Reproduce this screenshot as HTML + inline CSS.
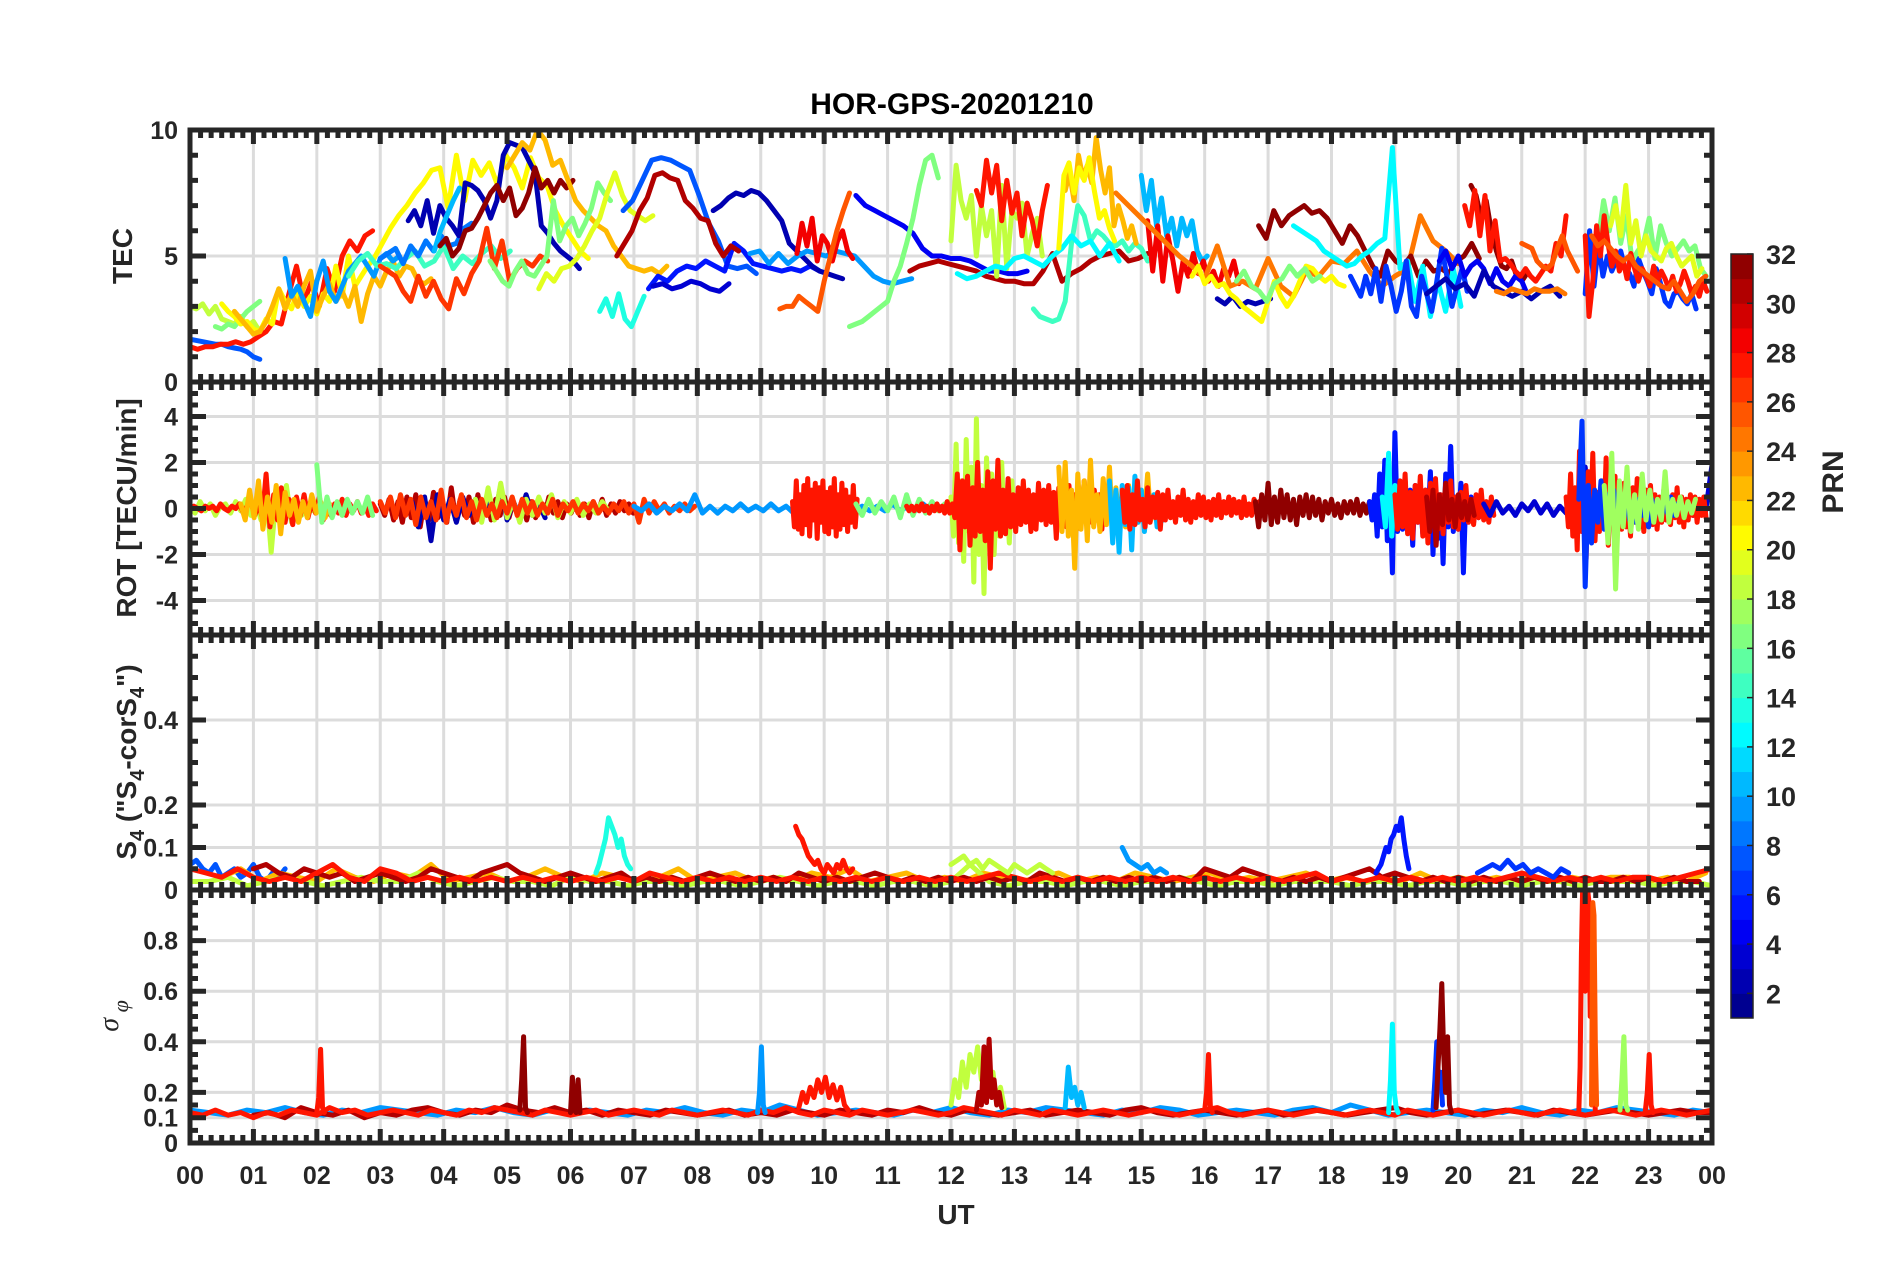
<!DOCTYPE html>
<html><head><meta charset="utf-8"><style>
html,body{margin:0;padding:0;background:#fff;}
svg{display:block;font-family:"Liberation Sans",Arial,sans-serif;}
</style></head><body>
<svg id="chart" width="1902" height="1272" viewBox="0 0 1902 1272" xmlns="http://www.w3.org/2000/svg">
<rect width="1902" height="1272" fill="#fff"/>
<text x="952" y="114" text-anchor="middle" font-size="30" font-weight="bold" fill="#000">HOR-GPS-20201210</text>
<g id="grids"></g>
<g id="series"></g>
<g id="frames"></g>
<g id="labels" fill="#262626" font-weight="bold"></g>
<text transform="translate(132,256) rotate(-90)" text-anchor="middle" font-size="28" font-weight="bold" fill="#262626">TEC</text>
<text transform="translate(136,508) rotate(-90)" text-anchor="middle" font-size="28" font-weight="bold" fill="#262626">ROT [TECU/min]</text>
<text transform="translate(136,762) rotate(-90)" text-anchor="middle" font-size="28" font-weight="bold" fill="#262626">S<tspan font-size="20" dy="8">4</tspan><tspan dy="-8"> ("S</tspan><tspan font-size="20" dy="8">4</tspan><tspan dy="-8">-corS</tspan><tspan font-size="20" dy="8">4</tspan><tspan dy="-8">")</tspan></text>
<text transform="translate(118,1016) rotate(-90)" text-anchor="middle" font-size="28" font-style="italic" fill="#262626" font-family="'Liberation Serif',serif">σ<tspan font-size="22" dy="10"> φ</tspan></text>
<text x="956" y="1224" text-anchor="middle" font-size="28" font-weight="bold" fill="#262626">UT</text>
<g id="colorbar"></g>
<text transform="translate(1843,482) rotate(-90)" text-anchor="middle" font-size="30" font-weight="bold" fill="#262626">PRN</text>
</svg>
<script>
// ---------- DATA ----------
const hourLabels = ["00","01","02","03","04","05","06","07","08","09","10","11","12","13","14","15","16","17","18","19","20","21","22","23","00"];
const tecTicks = [0,5,10];
const rotTicks = [-4,-2,0,2,4];
const s4Ticks = [0,0.1,0.2,0.4];
const sigTicks = [0,0.1,0.2,0.4,0.6,0.8];
const prnTicks = [2,4,6,8,10,12,14,16,18,20,22,24,26,28,30,32];

// TEC tracks
const tecPrn   = [7,27,18,16,20,20,22,9,14,8,26,2,10,31,22,16,19,13,7,5,3,30,2,9,28,25,4,16,30,18,27,14,12,22,20,10,28,24,2,31,31,20,16,12,6,4,2,27,25,24,6,16,19,27,25];
const tecStart = [0,0,0,0.4,0.5,2.9,0.7,1.5,2.5,3.0,3.0,3.44,3.85,3.94,5.0,4.73,5.5,6.46,6.83,7.23,7.3,6.73,8.25,8.83,9.57,9.3,10.5,10.4,11.35,12.0,12.4,13.3,12.1,13.8,13.7,15.0,15.1,14.6,16.2,16.85,20.2,15.8,16.5,17.4,18.3,19.7,19.5,20.1,21.0,20.6,22.0,22.2,22.4,22.0,22.1];
const tecStep  = [0.1,0.12,0.1,0.1,0.1,0.13,0.1,0.1,0.15,0.12,0.12,0.1,0.1,0.1,0.12,0.1,0.12,0.1,0.15,0.15,0.15,0.12,0.12,0.15,0.08,0.1,0.15,0.1,0.15,0.08,0.08,0.1,0.15,0.07,0.08,0.08,0.08,0.2,0.12,0.12,0.08,0.1,0.12,0.12,0.08,0.1,0.15,0.08,0.08,0.12,0.07,0.09,0.08,0.06,0.1];
const tecVals = [
[1.7,1.65,1.6,1.55,1.5,1.5,1.4,1.35,1.3,1.2,1.0,0.9],
[1.4,1.3,1.4,1.4,1.5,1.5,1.6,1.5,1.6,1.8,2.0,2.4,2.3,3.5,4.6,3.2,4.0,3.0,4.5,3.6,5.0,5.6,5.2,5.8,6.0],
[3.0,2.9,3.1,2.7,3.0,2.5,2.4,2.3,2.6,2.2,2.4,2.0],
[2.2,2.1,2.3,2.2,2.5,2.8,3.0,3.2],
[3.1,2.8,2.6,2.3,2.4,2.1,2.0,2.5,2.3,3.7,3.2,2.9,3.6,3.0,3.4,2.7,3.5,3.2,4.6,3.4,5.0,3.8,4.2,4.6,4.9],
[4.9,5.5,6.1,6.6,7.0,7.5,7.9,8.4,8.5,6.9,9.0,7.2,8.8,8.2,8.7,7.8,9.0,8.5,7.7,8.9,8.1,7.8,6.8,6.2,5.7,5.2,4.9],
[2.8,2.5,2.2,1.9,2.0,2.4,3.0,3.7,2.9,3.5,3.0,3.8,4.4,2.8,3.4,3.9,3.2,3.6,3.0,3.8,2.4,3.5,4.2,3.8,4.4,4.8,4.2,4.6,4.5,4.0,3.9,4.1],
[4.9,3.4,3.8,3.2,2.6,4.0,4.8,3.6,3.2,3.8,4.4,4.7,5.0,4.6,4.2,4.9,5.1,4.8,5.0],
[4.2,4.8,5.1,4.6,4.7,4.5,4.9,5.2,4.6,4.8,5.4,4.5,5.0,4.7,5.1,5.4,4.9,5.2],
[4.9,5.1,5.3,4.7,5.4,5.0,5.6,5.2,5.8,5.4,5.5,6.1,6.3],
[4.6,4.4,4.2,3.6,3.2,4.2,3.4,4.0,3.3,2.9,4.1,3.5,4.3,4.8,6.1,4.5,5.6,4.0,4.5,4.8,4.6,5.0,4.8],
[6.4,6.8,6.2,7.2,5.9,7.0,6.5,6.2,5.8,7.9,7.8,7.6,7.2,6.5,7.2,9.0,9.5,9.4,9.3,8.8,8.3,6.2,5.9,5.5,5.2,5.0,4.8,4.5],
[5.2,6.0,6.6,7.2,7.7],
[5.4,5.7,5.0,5.3,6.0,6.1,6.5,7.0,7.5,7.8,7.2,7.7,6.6,6.9,7.5,8.5,7.7,8.0,7.5,8.0,7.7,8.0],
[8.5,9.0,9.5,9.2,10.0,9.6,8.6,8.8,8.0,7.2,6.8,6.5,6.2,6.0,5.4,5.0,4.6,4.5,4.4,4.5,4.3,4.6],
[4.8,4.4,4.0,3.8,4.4,4.8,4.3,4.2,4.6,5.0,7.2,5.6,6.2,6.5,5.8,6.3,6.9,7.9,7.5,7.2],
[3.7,4.3,4.0,4.5,4.6,4.9,5.4,6.0,6.5,7.5,8.3,7.4,6.8,6.6,6.4,6.6],
[2.8,3.3,2.6,3.5,2.5,2.2,2.8,3.4],
[6.8,7.2,8.0,8.8,8.9,8.8,8.6,8.4,7.4,6.3,5.6,4.6,4.5,4.6,4.3],
[3.7,4.2,4.0,4.4,4.6,4.5,4.8,4.6,4.4,5.5,5.2,4.7,4.6,4.5,4.4,4.5,4.4,4.6,4.4],
[3.8,3.9,3.7,3.8,4.0,3.9,3.7,3.6,3.9],
[5.0,5.5,6.0,6.8,7.3,8.2,8.3,8.1,8.0,7.2,6.9,6.5,6.4,5.5,5.0,5.4,5.2],
[6.8,7.0,7.3,7.5,7.4,7.6,7.5,7.2,6.8,6.4,5.5,5.2,4.9,4.6,4.4,4.3,4.2,4.1],
[5.1,5.2,4.7,5.1,4.7,5.0,5.2,5.1,5.0,5.2,5.1,5.0,4.6,4.2,4.0,3.9,4.0,4.1],
[5.1,6.3,5.4,6.5,4.8,5.8,5.5,4.8,5.6,6.0,5.2,4.9],
[2.9,3.0,3.0,3.4,3.2,3.0,2.8,4.0,5.0,6.0,6.8,7.5],
[7.4,7.0,6.8,6.6,6.4,6.2,5.9,5.3,5.0,5.0,4.9,4.9,4.8,4.6,4.4,4.4,4.3,4.3,4.4],
[2.2,2.3,2.4,2.6,2.8,3.0,3.2,4.0,4.6,5.5,6.5,7.8,8.8,9.0,8.1],
[4.4,4.6,4.7,4.8,4.7,4.6,4.5,4.4,4.2,4.1,4.0,4.0,3.9,3.9,4.4,5.1,4.0,4.3,4.5,4.8,5.0,5.1,5.2,4.8,4.9,5.1],
[5.6,8.6,7.2,6.5,7.4,5.0,7.0,5.8,6.8,4.2,7.8,4.5,6.8,6.5,7.1,5.0,5.9,6.5,5.0],
[7.6,7.0,8.8,7.5,8.6,6.4,8.0,6.7,7.5,5.8,7.1,6.4,5.4,6.8,7.8],
[2.9,2.6,2.5,2.4,2.5,3.2,5.5,7.0,6.6,5.6,6.0,5.8,5.5,5.4,5.6,5.2,5.5,5.3,4.8],
[4.3,4.1,4.2,4.4,4.6,4.5,4.9,5.0,4.8,4.6,5.0,5.3,5.8,5.4,5.6,5.0,5.5,4.8],
[7.6,8.3,7.2,9.0,8.1,8.6,7.9,9.7,8.4,7.5,8.5,6.2,7.0,6.4,5.7,6.2,5.5],
[5.3,8.2,8.7,7.5,8.5,8.0,8.9,7.6,6.5,6.8,6.1,5.6],
[8.2,6.8,8.0,6.2,7.3,5.8,6.5,5.4,6.5,5.8,6.4,5.2,4.8,5.0],
[6.4,4.4,6.2,4.0,5.8,4.8,3.6,4.8,4.2,5.1,4.3,4.8,4.0,4.4,3.8,4.5,4.2,4.8,3.9],
[7.5,7.0,6.5,6.0,5.5,5.0,4.6,4.1,5.4,3.8,4.0,3.7,4.9,3.8,3.4,4.4,4.2,4.8,4.7,5.2,4.4,3.8,4.2,4.5,6.6,5.6,5.2,4.7],
[3.3,3.1,3.4,3.0,3.2,3.1,3.2,3.3],
[6.2,5.7,6.8,6.2,6.6,6.8,7.0,6.7,6.8,6.5,6.0,5.5,6.2,5.8,5.2,4.6,4.2,5.2,4.8,4.6,5.0,4.2,4.8,4.4,4.5,4.3,4.8,5.0,5.5,4.9],
[7.8,7.4,6.5,7.2,6.0,5.2,4.6,4.5,4.8,4.2,4.0,4.3],
[4.2,4.6,3.9,4.2,3.8,3.9,3.5,3.3,3.0,2.8,2.6,2.4,3.2,4.0,3.4,3.0,3.4,4.0,4.6,4.5,4.2,4.0,4.2,3.9,3.8],
[4.0,4.4,3.8,3.6,3.2,3.9,4.1,4.6,4.2,4.5,4.0,4.2],
[6.2,6.0,5.8,5.6,5.2,5.0,4.8,4.6,4.7,5.0,5.2,5.5,5.7,9.3,4.5,4.8,3.2,4.6,2.6,4.0,2.8,4.5,3.0],
[4.2,3.8,3.4,4.2,3.5,4.5,3.2,4.6,3.8,2.8,3.6,4.8,3.0,2.6,4.2,3.5,2.8,4.0,5.3,4.2,3.0,3.8,4.5,3.6],
[4.8,5.2,4.5,5.0,4.2,4.6,4.8,4.5,3.9,4.5,4.0,3.8,4.2,4.0,3.4],
[3.5,3.8,4.1,3.7,3.9,3.4,4.4,3.8,3.6,3.4,3.6,3.3,3.6,3.8,3.4],
[7.0,6.2,7.6,5.8,7.4,5.2,6.4,4.8,4.9,4.7,4.4,4.2,4.5,4.2,4.0,4.3,4.6,4.4,5.5,5.0,6.6],
[5.5,5.4,5.3,4.8,4.6,4.5,4.7,5.3,5.8,5.2,4.8,4.4],
[3.6,3.5,3.7,3.6,3.5,3.7,3.6,3.6,3.7,3.5],
[3.5,6.0,3.8,5.5,4.2,5.0,4.4,4.8,5.2,4.5,4.3,3.8,4.9,4.4,4.0,3.5,4.5,3.9,3.2,3.0,3.5,3.6,3.3,3.1,3.5,2.9],
[5.5,7.2,6.0,7.3,5.5,6.6,4.8,5.2,5.5,6.5,4.9,6.2,5.5,5.0,5.3,5.6,5.2,5.4,4.5,4.2],
[6.2,7.0,5.8,7.8,5.5,6.4,5.0,5.8,5.2,5.0,4.8,5.3,5.5,5.0,4.6,4.8,5.0,4.2,4.5],
[5.8,2.6,4.0,6.2,5.0,6.6,5.5,4.6,5.2,4.4,4.8,4.1,5.1,4.5,4.0,4.5,4.2,3.8,4.6,4.0,4.4,4.1,3.7,4.2,3.6,3.9,4.4,4.0,3.5,3.8,3.4,4.0,3.6],
[5.8,5.4,5.6,5.3,5.0,4.8,5.0,4.6,4.4,4.2,4.0,3.8,3.7,4.0,3.6,3.2,3.5,4.0,4.2]
];

// ROT series
const rotPrn   = [18,27,22,16,30,2,18,26,9,27,16,18,27,22,10,27,31,5,12,27,30,3,27,6,17];
const rotStart = [0,0,0.8,2.0,3.0,3.5,4.5,3.0,7.0,9.5,10.5,12.0,11.3,13.7,14.5,14.7,16.8,18.6,18.8,19.0,19.5,20.4,21.7,21.9,22.3];
const rotStep  = [0.08,0.06,0.07,0.08,0.07,0.1,0.1,0.08,0.12,0.03,0.1,0.04,0.04,0.05,0.05,0.04,0.05,0.04,0.05,0.04,0.05,0.1,0.035,0.05,0.06];
const rotVals = [
[0.1,-0.2,0.3,-0.1,0.2,-0.3,0.1,0.2,-0.2,0.3,-0.1,0.4,-0.3,0.2,-0.5,0.8,-1.9,0.6,-0.4,1.0,-0.6,0.4,-0.3,0.2,-0.1,0.3,-0.2,0.1],
[0,0.1,0,-0.1,0.1,0,0.1,-0.1,0.2,0,-0.1,0.1,0,0.2,-0.2,0.1,0.3,-0.3,0.2,-0.4,1.5,-0.8,0.6,-0.5,0.9,-0.6,0.4,-0.7,0.5,-0.3,0.6,-0.4,0.3,-0.2,0.5,-0.5,0.3,-0.3,0.2,-0.2,0.4,-0.3,0.2,-0.1,0.3,-0.2,0.1,-0.3,0.2,-0.1],
[0.2,-0.5,0.8,-0.4,1.2,-0.9,0.5,-0.6,1.0,-1.1,0.7,-0.3,0.4,-0.6,0.3,-0.4,0.6,-0.2,0.3,-0.4,0.2],
[1.9,-0.6,0.5,-0.4,0.3,-0.3,0.4,-0.2,0.3,-0.2,0.5,-0.3],
[0.2,-0.3,0.4,-0.5,0.3,-0.6,0.5,-0.4,0.6,-0.8,0.4,-0.5,0.7,-0.4,0.3,-0.6,0.9,-0.5,0.4,-0.3,0.5,-0.6,0.6,-0.4,0.3,-0.5,0.4,-0.3,0.5,-0.4,0.3,-0.3,0.4,-0.5,0.3,-0.4,0.2,-0.3,0.5,-0.2,0.3,-0.4,0.2,-0.2,0.3,-0.3,0.2,-0.4,0.3,-0.2,0.4,-0.3,0.2,-0.2,0.3,-0.1,0.2,-0.2],
[0.3,-0.8,0.5,-1.4,0.6,-0.5,0.4,-0.6,0.5,-0.3,0.4,-0.5,0.6,-0.4,1.0,-0.5,0.3,-0.4,0.6,-0.3,0.2,-0.4],
[0.4,-0.6,0.9,-0.5,1.1,-0.4,0.3,-0.6,0.4,-0.3,0.5,-0.2,0.6,-0.4,0.3,-0.2,0.4,-0.3,0.2,-0.2,0.3,-0.1],
[0.3,-0.2,0.5,-0.4,0.6,-0.3,0.4,-0.7,0.5,-0.4,0.3,-0.5,0.8,-0.6,0.4,-0.3,0.6,-0.4,0.3,-0.5,0.4,-0.3,0.2,-0.4,0.3,-0.2,0.5,-0.3,0.4,-0.2,0.3,-0.3,0.2,-0.2,0.4,-0.3,0.2,-0.1,0.3,-0.2,0.2,-0.1,0.3,-0.2,0.1,-0.2,0.2,-0.1,0.3,-0.2,0.2,-0.6,0.4,-0.2,0.3,-0.1,0.2,-0.2,0.1,-0.1,0.2,-0.1,0.1],
[0.1,-0.1,0.2,-0.2,0.1,-0.1,0.2,-0.1,0.6,-0.2,0.1,-0.2,0.1,-0.1,0.2,-0.1,0.1,-0.1,0.2,-0.1,0.1,-0.2,0.1,-0.1,0.2,-0.1,0.1,-0.1,0.2,-0.1,0.1,-0.1,0.1,-0.1,0.2,-0.1,0.1,-0.1,0.2,-0.1,0.1,-0.1],
[0.3,-0.8,1.2,-0.9,0.6,-1.1,1.0,-0.7,1.3,-1.2,0.8,-0.5,1.1,-1.3,0.9,-0.6,1.2,-1.0,0.7,-1.1,0.9,-0.8,1.3,-1.2,0.6,-0.9,1.1,-0.7,0.8,-1.0,0.5,-0.6,1.0,-0.8,0.4],
[0.2,-0.3,0.4,-0.2,0.3,-0.1,0.5,-0.4,0.6,-0.3,0.4,-0.2,0.3,-0.1,0.2],
[0.5,-1.2,2.8,-1.5,1.2,-2.3,3.0,-1.0,1.8,-3.2,3.9,-2.0,1.0,-3.7,2.2,-0.8,1.5,-2.0,0.8,-1.2,2.0,-1.0,0.6,-1.5,1.2,-0.8,0.5,-0.6],
[0.1,-0.1,0.1,-0.1,0.1,-0.1,0.2,-0.1,0.1,-0.2,0.1,-0.1,0.2,-0.1,0.1,-0.2,0.3,-0.2,0.2,-0.4,1.5,-1.8,1.2,-0.8,1.4,-1.6,0.9,-1.2,2.0,-1.0,0.8,-1.4,1.6,-2.6,1.2,-0.9,2.1,-1.2,0.8,-1.1,1.3,-0.8,0.6,-1.0,0.9,-0.7,1.2,-0.6,0.8,-1.0,0.6,-0.9,1.1,-0.5,0.8,-0.7,1.0,-0.6,0.7,-1.3,0.9,-0.6,0.5,-0.8,1.0,-0.5,0.6,-0.9,0.8,-0.4,1.2,-0.7,0.5,-0.6,0.8,-0.5,0.6,-0.9,0.7,-0.4,0.9,-0.6,0.5,-0.7,0.4],
[1.8,-1.0,2.0,-1.2,0.8,-2.6,1.5,-0.9,1.2,-1.4,2.1,-0.8,0.6,-1.0,1.3,-0.7,1.8,-1.1,0.9,-0.6,0.5,-0.8,1.0,-0.5,0.7,-0.6,0.8,-0.4,1.5,-0.5,0.6,-0.4],
[1.2,-1.5,0.8,-1.9,1.0,-0.7,0.9,-1.8,1.4,-0.6,0.8,-1.0,0.5,-0.4,0.6,-0.8,0.3,-0.5,0.4,-0.3],
[0.8,-0.6,1.0,-0.9,0.6,-0.7,1.2,-0.5,0.4,-0.8,0.9,-0.6,0.5,-0.4,0.7,-0.9,0.6,-0.5,0.8,-0.4,0.3,-0.6,0.5,-0.3,0.8,-0.5,0.4,-0.6,0.3,-0.4,0.6,-0.3,0.5,-0.4,0.3,-0.5,0.4,-0.3,0.6,-0.4,0.3,-0.2,0.5,-0.3,0.4,-0.2,0.3,-0.4,0.5,-0.3,0.2,-0.3,0.4,-0.2,0.3,-0.2,0.2],
[0.3,-0.8,0.6,-0.5,1.1,-0.7,0.5,-0.6,0.8,-0.4,0.6,-0.5,0.4,-0.7,0.5,-0.3,0.6,-0.4,0.5,-0.3,0.4,-0.5,0.3,-0.2,0.4,-0.3,0.2,-0.4,0.3,-0.2,0.3,-0.2,0.4,-0.3,0.2,-0.2,0.3,-0.1,0.2,-0.2],
[0.3,-0.5,0.6,-1.2,1.5,-0.8,2.1,-1.4,0.8,-2.8,3.3,-1.0,0.6,-0.9,1.2,-0.5,0.8,-1.6,1.0,-0.6,0.4,-1.1,0.8,-0.5,1.6,-2.0,0.9,-1.3,0.6,-2.4,1.5,-0.8,2.7,-1.0,0.5,-0.9,1.1,-2.8,0.7,-0.4,0.5,-0.6,0.3,-0.4],
[0.5,-0.8,2.4,-1.2,1.0,-0.6,0.5,-0.4,0.3],
[0.6,-0.9,1.2,-0.8,1.5,-1.1,0.7,-1.3,1.0,-0.6,1.4,-1.2,0.8,-1.5,1.1,-0.7,1.3,-0.9,0.6,-1.1,0.9,-0.6,1.2,-0.8,0.5,-0.9,0.7,-0.5,1.0,-0.6,0.4,-0.7,0.6,-0.4,0.8,-0.5,0.3,-0.6,0.5,-0.3],
[0.5,-1.0,0.8,-1.6,0.6,-0.7,1.1,-0.5,0.4,-0.8,0.6,-0.4,0.3,-0.5,0.4,-0.3],
[0.2,-0.3,0.3,-0.2,0.1,-0.3,0.2,-0.1,0.3,-0.2,0.2,-0.3,0.1,-0.2,0.4,-0.5,1.8,-0.6,0.5,-0.4,0.3,-0.3,0.2,-0.2,0.5,-0.4,0.2,-0.3,0.1,-0.2,0.3,-0.2,0.2,-0.3,0.2,-0.1,1.9],
[0.5,-0.8,1.5,-1.2,0.9,-1.8,2.5,-1.0,0.8,-2.2,1.6,-0.6,2.4,-1.4,0.7,-1.0,1.2,-0.8,2.2,-1.6,0.9,-0.7,1.4,-1.1,0.6,-0.9,1.1,-0.8,0.5,-1.2,0.9,-0.6,1.3,-0.8,0.7,-1.0,0.8,-0.5,1.0,-0.7,0.6,-0.9,0.5,-0.6,0.8,-0.5,0.4,-0.7,0.6,-0.4,0.9,-0.6,0.5,-0.8,0.4,-0.5,0.6,-0.3,0.5,-0.6,0.4,-0.3,0.5,-0.4],
[0.4,3.8,-3.4,1.0,-1.5,0.8,-0.6,1.2,-0.9,0.6,-0.5,0.8,-0.7,0.5,-0.4,0.6,-0.5,0.3,-0.6,0.4,-0.3,0.5,-0.8,0.4,-0.3,0.2,-0.4,0.3,-0.2,0.5,-0.3,0.2],
[1.0,-1.5,2.4,-3.5,1.2,-0.8,1.8,-1.0,0.6,-0.9,1.5,-0.5,0.8,-0.6,0.4,-0.5,1.6,-0.6,0.4,-0.3,0.5,-0.4,0.3,-0.2,0.4]
];

// S4 series
const s4Prn   = [7,22,18,30,27,13,27,5,18,9,6];
const s4Start = [0,0.5,0,1,0,6.4,9.55,18.7,12,14.7,20.3];
const s4Step  = [0.1,0.3,0.3,0.2,0.25,0.05,0.05,0.04,0.1,0.1,0.12];
const s4Vals = [
[0.06,0.07,0.05,0.04,0.06,0.03,0.04,0.05,0.03,0.04,0.06,0.03,0.02,0.04,0.03,0.05],
[0.03,0.05,0.02,0.04,0.03,0.02,0.05,0.03,0.02,0.04,0.03,0.06,0.02,0.03,0.04,0.02,0.03,0.05,0.03,0.02,0.04,0.03,0.02,0.03,0.05,0.02,0.03,0.04,0.02,0.03,0.02,0.04,0.03,0.05,0.02,0.03,0.04,0.02,0.03,0.02,0.04,0.03,0.02,0.03,0.04,0.02,0.03,0.02,0.04,0.03,0.02,0.03,0.04,0.02,0.03,0.02,0.03,0.04,0.02,0.03,0.02,0.03,0.02,0.04,0.02,0.03,0.02,0.03,0.02,0.03,0.02,0.03,0.02,0.03,0.03,0.02,0.03,0.02,0.04],
[0.02,0.02,0.03,0.01,0.02,0.03,0.02,0.01,0.02,0.03,0.02,0.02,0.04,0.02,0.01,0.02,0.03,0.02,0.02,0.01,0.03,0.02,0.02,0.01,0.02,0.02,0.01,0.02,0.02,0.01,0.02,0.03,0.02,0.01,0.02,0.02,0.01,0.02,0.02,0.01,0.02,0.06,0.02,0.01,0.02,0.02,0.01,0.02,0.02,0.01,0.02,0.02,0.03,0.02,0.01,0.02,0.02,0.01,0.02,0.02,0.02,0.01,0.02,0.02,0.01,0.02,0.02,0.01,0.02,0.02,0.01,0.02,0.02,0.01,0.02,0.02,0.02,0.01,0.02,0.02,0.01],
[0.05,0.06,0.04,0.03,0.05,0.04,0.03,0.04,0.02,0.03,0.04,0.03,0.02,0.03,0.05,0.04,0.03,0.02,0.04,0.05,0.06,0.04,0.03,0.02,0.03,0.04,0.03,0.02,0.03,0.04,0.02,0.03,0.02,0.03,0.02,0.03,0.04,0.03,0.02,0.03,0.02,0.03,0.02,0.04,0.03,0.02,0.03,0.02,0.03,0.04,0.03,0.02,0.03,0.02,0.03,0.02,0.03,0.02,0.03,0.02,0.03,0.02,0.04,0.03,0.02,0.03,0.02,0.03,0.02,0.03,0.02,0.03,0.02,0.03,0.02,0.05,0.04,0.03,0.05,0.04,0.03,0.02,0.03,0.02,0.03,0.02,0.03,0.04,0.05,0.03,0.04,0.03,0.02,0.03,0.02,0.03,0.02,0.03,0.02,0.03,0.02,0.03,0.02,0.03,0.02,0.03,0.02,0.02,0.03,0.02,0.03,0.02,0.03,0.02,0.02],
[0.05,0.04,0.03,0.05,0.03,0.02,0.03,0.02,0.04,0.06,0.03,0.02,0.05,0.04,0.02,0.03,0.02,0.03,0.02,0.03,0.02,0.03,0.02,0.03,0.02,0.03,0.02,0.03,0.02,0.04,0.03,0.02,0.03,0.02,0.03,0.02,0.03,0.02,0.03,0.02,0.03,0.02,0.03,0.02,0.03,0.02,0.03,0.02,0.03,0.02,0.03,0.04,0.03,0.02,0.03,0.02,0.03,0.02,0.03,0.02,0.03,0.02,0.03,0.02,0.03,0.02,0.03,0.02,0.03,0.02,0.03,0.04,0.02,0.03,0.02,0.03,0.02,0.03,0.02,0.03,0.02,0.03,0.02,0.03,0.04,0.03,0.02,0.03,0.02,0.03,0.02,0.03,0.03,0.02,0.03,0.04,0.05],
[0.04,0.06,0.09,0.12,0.17,0.15,0.13,0.10,0.12,0.08,0.06,0.05],
[0.15,0.13,0.12,0.10,0.08,0.07,0.06,0.07,0.05,0.04,0.06,0.05,0.04,0.06,0.05,0.07,0.05,0.04,0.05],
[0.04,0.05,0.06,0.08,0.10,0.09,0.12,0.13,0.15,0.14,0.17,0.12,0.08,0.05],
[0.06,0.07,0.08,0.06,0.07,0.05,0.07,0.06,0.05,0.04,0.06,0.05,0.04,0.05,0.06,0.05,0.04],
[0.10,0.07,0.06,0.05,0.06,0.04,0.05,0.04],
[0.04,0.05,0.06,0.05,0.07,0.05,0.06,0.04,0.05,0.04,0.03,0.05,0.04]
];

// Sigma-phi series
const sigPrn   = [9,30,27,27,31,31,9,27,18,30,10,27,12,6,31,27,25,17,27];
const sigStart = [0,1,0,2.0,5.2,6.0,8.95,9.6,12.0,12.4,13.8,16.0,18.9,19.6,19.65,21.9,22.1,22.55,22.95];
const sigStep  = [0.3,0.25,0.2,0.03,0.03,0.03,0.03,0.06,0.06,0.04,0.05,0.03,0.03,0.03,0.03,0.02,0.02,0.03,0.03];
const sigVals = [
[0.13,0.12,0.11,0.13,0.12,0.14,0.12,0.11,0.13,0.12,0.14,0.13,0.12,0.11,0.13,0.12,0.14,0.12,0.11,0.13,0.12,0.13,0.12,0.11,0.13,0.12,0.14,0.12,0.11,0.13,0.12,0.15,0.13,0.11,0.12,0.13,0.12,0.11,0.13,0.12,0.14,0.12,0.11,0.13,0.12,0.14,0.13,0.12,0.11,0.13,0.12,0.14,0.13,0.11,0.12,0.13,0.12,0.11,0.13,0.14,0.12,0.15,0.13,0.11,0.12,0.13,0.12,0.11,0.13,0.12,0.14,0.12,0.11,0.13,0.12,0.14,0.13,0.12,0.11,0.13,0.12],
[0.11,0.12,0.10,0.14,0.12,0.11,0.13,0.10,0.12,0.11,0.13,0.14,0.12,0.11,0.13,0.12,0.15,0.13,0.12,0.14,0.12,0.13,0.11,0.13,0.12,0.11,0.13,0.12,0.11,0.12,0.13,0.11,0.12,0.11,0.13,0.12,0.11,0.13,0.12,0.11,0.13,0.12,0.14,0.12,0.11,0.13,0.12,0.11,0.12,0.13,0.11,0.12,0.13,0.12,0.11,0.13,0.14,0.12,0.11,0.12,0.13,0.12,0.11,0.12,0.13,0.11,0.12,0.13,0.12,0.11,0.12,0.13,0.14,0.12,0.11,0.12,0.13,0.11,0.12,0.13,0.12,0.11,0.13,0.12,0.11,0.12,0.13,0.12,0.11,0.12,0.13,0.12,0.12],
[0.12,0.11,0.13,0.11,0.12,0.10,0.12,0.11,0.13,0.12,0.11,0.14,0.12,0.13,0.11,0.12,0.13,0.12,0.11,0.13,0.12,0.11,0.13,0.12,0.14,0.13,0.12,0.11,0.13,0.12,0.11,0.12,0.13,0.11,0.12,0.13,0.12,0.11,0.13,0.12,0.11,0.12,0.13,0.12,0.11,0.13,0.12,0.14,0.12,0.11,0.13,0.12,0.11,0.13,0.12,0.11,0.12,0.13,0.12,0.11,0.12,0.14,0.13,0.12,0.11,0.13,0.12,0.11,0.13,0.12,0.11,0.12,0.13,0.12,0.11,0.12,0.13,0.12,0.11,0.12,0.13,0.14,0.12,0.11,0.12,0.13,0.12,0.11,0.12,0.13,0.12,0.11,0.12,0.13,0.12,0.11,0.13,0.12,0.11,0.12,0.13,0.12,0.11,0.12,0.13,0.12,0.11,0.12,0.13,0.12,0.11,0.12,0.13,0.12,0.11,0.12,0.13,0.12,0.11,0.12,0.13],
[0.12,0.18,0.37,0.14,0.12],
[0.13,0.25,0.42,0.14,0.12],
[0.12,0.26,0.13,0.12,0.25,0.12],
[0.12,0.20,0.38,0.15,0.12],
[0.14,0.20,0.16,0.22,0.18,0.25,0.20,0.26,0.18,0.23,0.17,0.22,0.15,0.13],
[0.15,0.25,0.18,0.32,0.22,0.35,0.28,0.38,0.25,0.33,0.20,0.28,0.16,0.22,0.14],
[0.13,0.20,0.15,0.38,0.16,0.41,0.18,0.25,0.15,0.20,0.14],
[0.14,0.30,0.18,0.22,0.15,0.20,0.14],
[0.13,0.20,0.35,0.14,0.12],
[0.12,0.25,0.47,0.20,0.14,0.12],
[0.13,0.25,0.40,0.22,0.28,0.15],
[0.14,0.30,0.45,0.63,0.35,0.20,0.42,0.15,0.12],
[0.12,0.30,0.75,1.0,0.98,0.6,0.85,1.0,0.95,0.5,0.92,0.7,0.2,0.13],
[0.15,0.95,0.9,0.4,0.15],
[0.13,0.25,0.42,0.15,0.13],
[0.13,0.2,0.35,0.15,0.12]
];

// ---------- LAYOUT ----------
const NS = "http://www.w3.org/2000/svg";
const X0 = 190, X1 = 1712;
const panels = [
  {key:"tec", top:130, bot:382, min:0, max:10, ticks:tecTicks, minor:1},
  {key:"rot", top:382, bot:635, min:-5.5, max:5.5, ticks:rotTicks, minor:0.5},
  {key:"s4", top:635, bot:890, min:0, max:0.6, ticks:s4Ticks, minor:0.05},
  {key:"sigma", top:890, bot:1143, min:0, max:1, ticks:sigTicks, minor:0.05}
];
function xScale(h){ return X0 + (h/24)*(X1-X0); }
function yScale(p,v){ return p.bot - (v-p.min)/(p.max-p.min)*(p.bot-p.top); }
function jet(i,n){
  const t=(i+0.5)/n;
  const c=v=>Math.round(255*Math.max(0,Math.min(1,v)));
  return "rgb("+c(Math.min(4*t-1.5,-4*t+4.5))+","+c(Math.min(4*t-0.5,-4*t+3.5))+","+c(Math.min(4*t+0.5,-4*t+2.5))+")";
}
function prnColor(p){ return jet(Math.min(Math.max(p-1,0),30),31); }
function mk(tag,attrs,parent){ const e=document.createElementNS(NS,tag); for(const k in attrs) e.setAttribute(k,attrs[k]); parent.appendChild(e); return e; }

const grids=document.getElementById("grids"), series=document.getElementById("series"), frames=document.getElementById("frames"), labels=document.getElementById("labels");
const defs=mk("defs",{},document.getElementById("chart"));

panels.forEach(p=>{
  const cp=mk("clipPath",{id:"clip-"+p.key},defs);
  mk("rect",{x:X0,y:p.top,width:X1-X0,height:p.bot-p.top},cp);
  for(let h=1;h<24;h++){
    const g=mk("line",{x1:xScale(h),x2:xScale(h),y1:p.top,y2:p.bot,stroke:"#dcdcdc","stroke-width":3},grids);
    
    
  }
  p.ticks.forEach(v=>{
    if(v===p.min||v===p.max) return;
    const g=mk("line",{x1:X0,x2:X1,y1:yScale(p,v),y2:yScale(p,v),stroke:"#dcdcdc","stroke-width":3},grids);
    
    
  });
});

function drawSet(p,prns,starts,steps,vals,w,name){
  const g=mk("g",{"clip-path":"url(#clip-"+p.key+")"},series);
  
  
  prns.forEach((prn,i)=>{
    const pts=vals[i].map((v,j)=>xScale(starts[i]+j*steps[i]).toFixed(1)+","+yScale(p,v).toFixed(1)).join(" ");
    const l=mk("polyline",{points:pts,fill:"none",stroke:prnColor(prn),"stroke-width":w,"stroke-linejoin":"round","stroke-linecap":"round"},g);
    
    
  });
}
drawSet(panels[0],tecPrn,tecStart,tecStep,tecVals,5,"tec");
drawSet(panels[1],rotPrn,rotStart,rotStep,rotVals,5,"rot");
drawSet(panels[2],s4Prn,s4Start,s4Step,s4Vals,5,"s4");
drawSet(panels[3],sigPrn,sigStart,sigStep,sigVals,5,"sigma");

panels.forEach(p=>{
  const f=mk("rect",{x:X0,y:p.top,width:X1-X0,height:p.bot-p.top,fill:"none",stroke:"#262626","stroke-width":5},frames);
  
  
  let d="";
  for(let m=0;m<=144;m++){
    const x=xScale(m/6), L=(m%6===0)?14:8;
    d+="M"+x+","+p.top+"v"+L+"M"+x+","+p.bot+"v"+(-L);
  }
  const nMinor=Math.round((p.max-p.min)/p.minor);
  for(let k=0;k<=nMinor;k++){
    const v=p.min+k*p.minor;
    const y=yScale(p,v);
    if(y<p.top-1||y>p.bot+1) continue;
    const major=p.ticks.some(t=>Math.abs(t-v)<1e-6);
    const L=major?16:8;
    d+="M"+X0+","+y+"h"+L+"M"+X1+","+y+"h"+(-L);
  }
  const t=mk("path",{d:d,stroke:"#262626","stroke-width":5,fill:"none"},frames);
  
  
  p.ticks.forEach(v=>{
    const tx=mk("text",{x:178,y:yScale(p,v)+9,"text-anchor":"end","font-size":25},labels);
    tx.textContent=String(v);
    
    
  });
});
hourLabels.forEach((s,i)=>{
  const tx=mk("text",{x:xScale(i),y:1184,"text-anchor":"middle","font-size":25},labels);
  tx.textContent=s;
  
  
});

const cb=document.getElementById("colorbar");
const CB={x:1731,w:22,top:254,bot:1018,min:1,max:32};
function cbY(v){ return CB.bot-(v-CB.min)/(CB.max-CB.min)*(CB.bot-CB.top); }
for(let i=0;i<31;i++){
  const r=mk("rect",{x:CB.x,y:cbY(i+2),width:CB.w,height:cbY(i+1)-cbY(i+2)+0.5,fill:jet(i,31)},cb);
  
  
}
const cbf=mk("rect",{x:CB.x,y:CB.top,width:CB.w,height:CB.bot-CB.top,fill:"none",stroke:"#262626","stroke-width":1.5},cb);


prnTicks.forEach(v=>{
  const l=mk("line",{x1:CB.x+CB.w-6,x2:CB.x+CB.w,y1:cbY(v),y2:cbY(v),stroke:"#262626","stroke-width":1.5},cb);
  
  
  const tx=mk("text",{x:1766,y:cbY(v)+10,"font-size":27,"font-weight":"bold",fill:"#262626"},cb);
  tx.textContent=String(v);
  
  
});
</script>
</body></html>
